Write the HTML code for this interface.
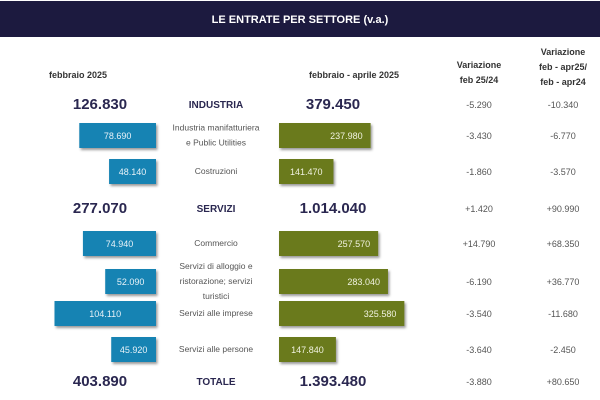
<!DOCTYPE html>
<html><head><meta charset="utf-8"><style>
body{margin:0;background:#fff;}
#c{position:relative;width:600px;height:400px;overflow:hidden;font-family:"Liberation Sans",sans-serif;}
</style></head><body>
<div id="c">
<svg id="s" width="600" height="400">
<defs><filter id="sh" x="-10%" y="-10%" width="130%" height="150%"><feDropShadow dx="1.5" dy="2" stdDeviation="1.2" flood-color="#000" flood-opacity="0.4"/></filter></defs>
<rect x="0" y="1" width="600" height="36" fill="#1c1a3f"/>
<text x="300" y="23" fill="#fff" font-size="11" font-weight="bold" text-anchor="middle">LE ENTRATE PER SETTORE (v.a.)</text>
<g font-size="9" fill="#333" text-anchor="middle" font-weight="bold">
<text x="78" y="78">febbraio 2025</text>
<text x="354" y="78">febbraio  - aprile 2025</text>
<text x="479" y="68">Variazione</text>
<text x="479" y="83">feb 25/24</text>
<text x="563" y="55">Variazione</text>
<text x="563" y="70">feb - apr25/</text>
<text x="563" y="85">feb - apr24</text>
</g>
<g id="rows"></g>
</svg>
</div>
<script>
const labels=[["INDUSTRIA"],["Industria manifatturiera","e Public Utilities"],["Costruzioni"],["SERVIZI"],["Commercio"],["Servizi di alloggio e","ristorazione; servizi","turistici"],["Servizi alle imprese"],["Servizi alle persone"],["TOTALE"]];
const isTotal=[true,false,false,true,false,false,false,false,true];
const feb=[126830,78690,48140,277070,74940,52090,104110,45920,403890];
const febApr=[379450,237980,141470,1014040,257570,283040,325580,147840,1393480];
const var1=["-5.290","-3.430","-1.860","+1.420","+14.790","-6.190","-3.540","-3.640","-3.880"];
const var2=["-10.340","-6.770","-3.570","+90.990","+68.350","+36.770","-11.680","-2.450","+80.650"];
const rowY=[104,135,171,208,243,281,313,349,381];
const fmt=v=>v.toLocaleString('de-DE');
const xBlue=v=>v/1000*0.975, xOlive=v=>v/1000*0.385;
const g=document.getElementById('rows');
const NS='http://www.w3.org/2000/svg';
function mk(tag,attrs,txt){const e=document.createElementNS(NS,tag);for(const k in attrs)e.setAttribute(k,attrs[k]);if(txt!==undefined)e.textContent=txt;g.appendChild(e);return e;}
labels.forEach((lab,i)=>{
  const y=rowY[i];
  if(isTotal[i]){
    let t=mk('text',{x:100,y:y+5,'font-size':15,'font-weight':'bold',fill:'#2a2750','text-anchor':'middle'},fmt(feb[i]));
    
    
    t=mk('text',{x:333,y:y+5,'font-size':15,'font-weight':'bold',fill:'#2a2750','text-anchor':'middle'},fmt(febApr[i]));
    
    
    t=mk('text',{x:216,y:y+4,'font-size':10,'font-weight':'bold',fill:'#2a2750','text-anchor':'middle'},lab[0]);
    
    
  } else {
    const wb=xBlue(feb[i]), wo=xOlive(febApr[i]);
    let r=mk('rect',{x:156-wb,y:y-12,width:wb,height:25,fill:'#1783b3',filter:'url(#sh)'});
    
    
    let t=mk('text',{x:156-wb/2,y:y+4,'font-size':9,fill:'#e8f2f8','text-anchor':'middle'},fmt(feb[i]));
    
    
    r=mk('rect',{x:279,y:y-12,width:wo,height:25,fill:'#6b7a1f',filter:'url(#sh)'});
    
    
    t=mk('text',{x:wo>70?279+wo-8:279+wo/2,y:y+4,'font-size':9,fill:'#f0f2e0','text-anchor':wo>70?'end':'middle'},fmt(febApr[i]));
    
    
    const n=lab.length, y0=y+3-(n-1)*7.5;
    lab.forEach((l,j)=>{
      t=mk('text',{x:216,y:y0+j*15,'font-size':8.5,fill:'#555','text-anchor':'middle'},l);
      
      
    });
  }
  let t=mk('text',{x:479,y:y+4,'font-size':9,fill:'#555','text-anchor':'middle'},var1[i]);
  
  
  t=mk('text',{x:563,y:y+4,'font-size':9,fill:'#555','text-anchor':'middle'},var2[i]);
  
  
});
</script>
</body></html>
